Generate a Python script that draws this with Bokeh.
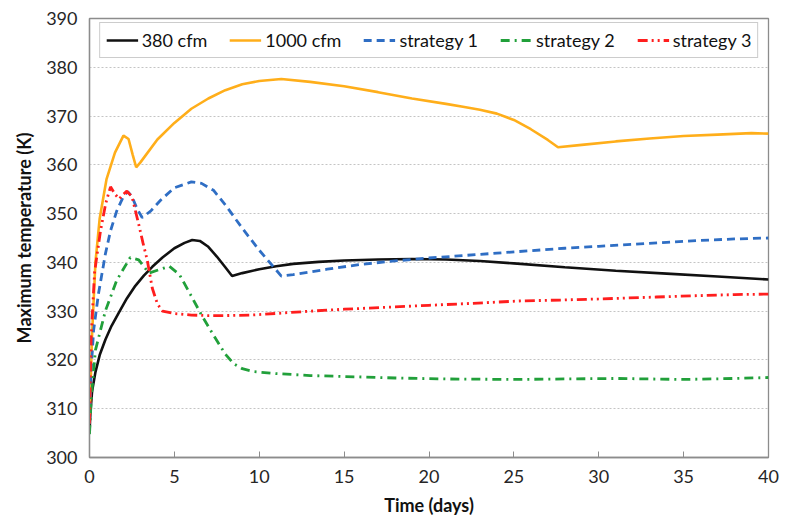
from bokeh.plotting import figure
from bokeh.embed import file_html
from bokeh.resources import INLINE
from bokeh.models import FixedTicker

# ---- data ----
cfm380_x = [0, 0.05, 0.15, 0.35, 0.6, 0.94, 1.3, 1.73, 2.2, 2.7, 3.2, 3.7, 4.3, 5.0, 5.6, 6.05, 6.5, 7.0, 7.5, 8.0,
            8.4, 9, 10, 11, 12, 13.5, 15, 17, 19, 21, 23, 25, 28, 31, 34, 37, 40]
cfm380_y = [305, 309, 313.5, 317.5, 321, 324.2, 327, 329.7, 332.6, 335.2, 337.3, 339.1, 341, 342.9, 344, 344.6, 344.4,
            343.2, 341.2, 339, 337.2, 337.8, 338.6, 339.2, 339.7, 340.1, 340.4, 340.6, 340.7, 340.6, 340.3, 339.8, 339,
            338.3, 337.7, 337.1, 336.5]

cfm1000_x = [0, 0.15, 0.35, 0.6, 1.0, 1.5, 2.0, 2.3, 2.55, 2.75, 3.0, 4.0, 5, 6, 7, 8, 9, 10, 11.3, 13, 15, 17, 19, 21,
             22, 23, 24, 25, 26, 27, 27.6, 29, 31, 33, 35, 37, 39, 40]
cfm1000_y = [307, 325, 340, 349, 357, 362.5, 366, 365.3, 362, 359.5, 360.5, 365.2, 368.6, 371.5, 373.6, 375.3, 376.5,
             377.2, 377.6, 377.0, 376.1, 374.9, 373.6, 372.5, 371.9, 371.3, 370.5, 369.2, 367.3, 365.1, 363.6, 364.1,
             364.8, 365.4, 365.9, 366.2, 366.5, 366.4]

s1_x = [0, 0.1, 0.24, 0.53, 0.94, 1.24, 1.6, 2.0, 2.25, 2.5, 2.8, 3.1, 3.6, 4.2, 5, 6, 6.6, 7.3, 8, 9, 10, 11.3, 12, 14,
        16, 18, 20, 22, 24, 26, 28, 30, 32, 34, 36, 38, 40]
s1_y = [307, 318, 326, 333.6, 341.8, 346.5, 350.5, 353.5, 354.5, 353.5, 351, 349.2, 350.5, 352.8, 355.3, 356.5, 356.2,
        354.8, 351.8, 347, 342.5, 337.2, 337.5, 338.6, 339.6, 340.3, 340.9, 341.4, 341.9, 342.4, 342.9, 343.3, 343.7,
        344.1, 344.5, 344.8, 345]

s2_x = [0, 0.1, 0.35, 0.94, 1.6, 2.4, 2.9, 3.5, 4.1, 4.7, 5.3, 5.95, 6.6, 7.3, 8.0, 8.5, 9.0, 9.7, 11, 13, 15, 18, 21,
        25, 28, 31, 35, 38, 40]
s2_y = [304.8, 312, 322, 330.1, 336.3, 341, 340.5, 337.8, 338.5, 339.2, 337.5, 333.4, 329.2, 325.1, 321.2, 319.2, 318.2,
        317.6, 317.2, 316.8, 316.6, 316.3, 316.1, 316, 316.1, 316.2, 316, 316.2, 316.4]

s3_x = [0, 0.1, 0.3, 0.65, 0.95, 1.24, 1.5, 1.75, 2.0, 2.2, 2.5, 2.9, 3.15, 3.4, 3.7, 4.0, 4.3, 5, 6, 7, 8, 9.5, 11.3,
        13, 15, 17.5, 20, 22.5, 25.4, 28, 30, 33.4, 36, 38, 40]
s3_y = [307, 325, 338, 346.5, 352, 355.5, 354, 353, 354, 354.6, 353.5, 347.8, 344, 340.5, 334.7, 331.5, 330, 329.5,
        329.2, 329.1, 329.1, 329.2, 329.6, 330, 330.4, 330.8, 331.2, 331.6, 332.1, 332.3, 332.5, 332.9, 333.2, 333.4,
        333.5]

x_ticks = [0, 5, 10, 15, 20, 25, 30, 35, 40]
y_ticks = [300, 310, 320, 330, 340, 350, 360, 370, 380, 390]

FONT = "Lato"

p = figure(frame_width=679, frame_height=439, x_range=(0, 40), y_range=(300, 390),
           output_backend="svg", toolbar_location=None,
           min_border_left=89, min_border_right=17, min_border_top=18, min_border_bottom=72)
p.background_fill_color = "white"
p.border_fill_color = "white"
p.outline_line_color = "#8c8c8c"
p.outline_line_width = 1.3

p.line(cfm380_x, cfm380_y, line_color="#111111", line_width=2.6, legend_label="380 cfm")
p.line(cfm1000_x, cfm1000_y, line_color="#FFAE1A", line_width=2.6, legend_label="1000 cfm")
p.line(s1_x, s1_y, line_color="#2F6EC4", line_width=2.8, line_dash="8 5", legend_label="strategy 1")
p.line(s2_x, s2_y, line_color="#21A03A", line_width=2.8, line_dash="9 5 2 5", legend_label="strategy 2")
p.line(s3_x, s3_y, line_color="#FF1E1E", line_width=2.8, line_dash="10 4 2 4 2 4", legend_label="strategy 3")

# axes
p.xaxis.ticker = FixedTicker(ticks=x_ticks)
p.yaxis.ticker = FixedTicker(ticks=y_ticks)
for ax in (p.xaxis, p.yaxis):
    ax.axis_line_color = "#8c8c8c"
    ax.axis_line_width = 1.3
    ax.major_tick_line_color = "#8c8c8c"
    ax.minor_tick_line_color = None
    ax.major_label_text_font = FONT
    ax.major_label_text_font_size = "18px"
    ax.major_label_text_color = "#262626"
    ax.axis_label_text_font = FONT
    ax.axis_label_text_font_size = "18px"
    ax.axis_label_text_font_style = "bold"
    ax.axis_label_text_color = "#111111"

p.xaxis.major_tick_in = 6
p.xaxis.major_tick_out = 0
p.xaxis.major_label_standoff = 12
p.xaxis.axis_label = "Time (days)"
p.xaxis.axis_label_standoff = 8

p.yaxis.major_tick_in = 0
p.yaxis.major_tick_out = 0
p.yaxis.major_label_standoff = 12
p.yaxis.axis_label = "Maximum temperature (K)"
p.yaxis.axis_label_standoff = 8

# grid
p.xgrid.grid_line_color = None
p.ygrid.grid_line_color = "#c4c4c4"
p.ygrid.grid_line_dash = "2 2"
p.ygrid.grid_line_width = 1.2

# legend
lg = p.legend[0]
lg.location = "top_center"
lg.orientation = "horizontal"
lg.margin = 4
lg.padding = 6
lg.spacing = 22
lg.glyph_width = 32
lg.glyph_height = 18
lg.label_height = 18
lg.label_standoff = 4
lg.label_text_font = FONT
lg.label_text_font_size = "18px"
lg.label_text_color = "#111111"
lg.border_line_color = "#9a9a9a"
lg.border_line_width = 1.2
lg.background_fill_color = "white"
lg.background_fill_alpha = 1.0

open("out.html", "w").write(file_html(p, INLINE))
